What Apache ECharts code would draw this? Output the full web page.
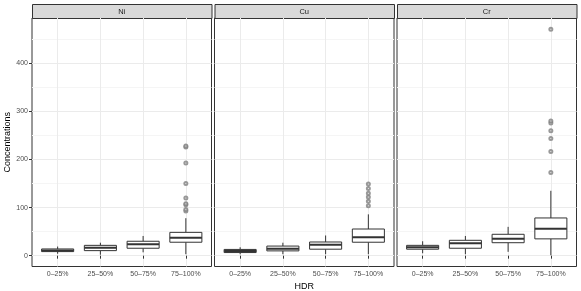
<!DOCTYPE html>
<html>
<head>
<meta charset="utf-8">
<script src="https://cdn.jsdelivr.net/npm/echarts@6/dist/echarts.min.js"></script>
<style>
html,body{margin:0;padding:0;background:#fff;}
#main{width:581px;height:291px;}
</style>
</head>
<body>
<div id="main"></div>
<script>
// ---- data ----
const categories = ['0–25%', '25–50%', '50–75%', '75–100%'];
const elements = ['Ni', 'Cu', 'Cr'];
const yTicks = [0, 100, 200, 300, 400];
const yMinorTicks = [50, 150, 250, 350, 450];
// box stats per category: [min, Q1, median, Q3, max]
const niStats = [[4, 8.5, 11, 14, 19], [2, 10.5, 16.5, 21.5, 27], [7, 15.5, 24, 30, 41], [3, 28, 37.5, 48.5, 78]];
const cuStats = [[3, 6.5, 10, 13, 17.5], [3, 10, 14.5, 20, 27], [3, 13.5, 23, 28.5, 42], [3, 28, 38.5, 55.5, 86]];
const crStats = [[5, 13.5, 17.5, 21.5, 30], [3, 15.5, 26, 32, 41], [8, 27, 35, 44.5, 60], [1, 35, 56, 78.5, 135]];
// outliers per category
const niOutliers = [[], [], [], [93, 96, 106, 108, 120, 150, 193, 226, 228]];
const cuOutliers = [[], [], [], [104, 113, 122, 130, 140, 149]];
const crOutliers = [[], [], [], [173, 217, 244, 260, 276, 280, 471]];

const allStats = [niStats, cuStats, crStats];
const allOutliers = [niOutliers, cuOutliers, crOutliers];

// ---- layout ----
const panelLeft = [32, 214.5, 397];
const panelWidth = 179.5;
const panelTop = 18;
const panelHeight = 248.5;
const stripTop = 4;
const yMin = -22.5, yMax = 494.5;

const grids = [], xAxes = [], yAxes = [], series = [], graphics = [];
const tickColor = '#333333';
const labelColor = '#4D4D4D';
const font = 'Liberation Sans, Arial, Helvetica, sans-serif';

elements.forEach((el, i) => {
  grids.push({left: panelLeft[i], top: panelTop, width: panelWidth, height: panelHeight,
    show: true, backgroundColor: '#fff', borderColor: '#333333', borderWidth: 1,
    containLabel: false, outerBoundsMode: 'none'});
  xAxes.push({
    type: 'value', gridIndex: i, min: 0.4, max: 4.6,
    axisLine: {show: false},
    axisTick: {show: true, length: 3, lineStyle: {color: tickColor, width: 1}, customValues: [1, 2, 3, 4]},
    axisLabel: {show: true, customValues: [1, 2, 3, 4], margin: 4, color: labelColor, fontSize: 7, fontFamily: font,
      formatter: v => categories[Math.round(v) - 1]},
    splitLine: {show: true, lineStyle: {color: '#EBEBEB', width: 1}},
    name: i === 1 ? 'HDR' : '', nameLocation: 'middle', nameGap: 14,
    nameTextStyle: {color: '#000', fontSize: 9, fontFamily: font}
  });
  // major y axis
  yAxes.push({
    type: 'value', gridIndex: i, min: yMin, max: yMax,
    axisLine: {show: false},
    axisTick: {show: i === 0, length: 3, lineStyle: {color: tickColor, width: 1}, customValues: yTicks},
    axisLabel: {show: i === 0, customValues: yTicks, margin: 4, color: labelColor, fontSize: 7, fontFamily: font},
    splitLine: {show: true, lineStyle: {color: '#EBEBEB', width: 1}},
    name: i === 0 ? 'Concentrations' : '', nameLocation: 'middle', nameGap: 18,
    nameTextStyle: {color: '#000', fontSize: 9, fontFamily: font}
  });
  // minor y axis (grid lines only)
  yAxes.push({
    type: 'value', gridIndex: i, min: yMin, max: yMax, position: 'left',
    axisLine: {show: false},
    axisTick: {show: false, customValues: yMinorTicks},
    axisLabel: {show: false, customValues: yMinorTicks},
    splitLine: {show: true, lineStyle: {color: '#F5F5F5', width: 1}}
  });

  const boxData = allStats[i].map((s, k) => [k + 1, s[0], s[1], s[2], s[3], s[4]]);
  series.push({
    type: 'custom', xAxisIndex: i, yAxisIndex: i * 2, data: boxData,
    encode: {x: 0, y: [1, 2, 3, 4, 5]}, z: 3,
    renderItem: function (params, api) {
      const x = api.value(0);
      const lo = api.coord([x, api.value(1)]);
      const q1 = api.coord([x, api.value(2)]);
      const med = api.coord([x, api.value(3)]);
      const q3 = api.coord([x, api.value(4)]);
      const hi = api.coord([x, api.value(5)]);
      const w = api.size([0.75, 0])[0];
      const st = {stroke: '#333333', lineWidth: 1, fill: null};
      return {type: 'group', children: [
        {type: 'line', shape: {x1: lo[0], y1: lo[1], x2: q1[0], y2: q1[1]}, style: st},
        {type: 'line', shape: {x1: q3[0], y1: q3[1], x2: hi[0], y2: hi[1]}, style: st},
        {type: 'rect', shape: {x: q3[0] - w / 2, y: q3[1], width: w, height: q1[1] - q3[1]},
          style: {fill: '#fff', stroke: '#333333', lineWidth: 1}},
        {type: 'line', shape: {x1: med[0] - w / 2, y1: med[1], x2: med[0] + w / 2, y2: med[1]},
          style: {stroke: '#333333', lineWidth: 2}}
      ]};
    }
  });
  const outData = [];
  allOutliers[i].forEach((arr, k) => arr.forEach(v => outData.push([k + 1, v])));
  series.push({
    type: 'scatter', xAxisIndex: i, yAxisIndex: i * 2, data: outData, z: 4,
    symbol: 'emptyCircle', symbolSize: 3,
    itemStyle: {color: '#808080', borderWidth: 0.8}
  });

  graphics.push({
    type: 'rect', left: panelLeft[i], top: stripTop,
    shape: {width: panelWidth, height: panelTop - stripTop},
    style: {fill: '#D9D9D9', stroke: '#333333', lineWidth: 1}
  });
  graphics.push({
    type: 'text', x: panelLeft[i] + panelWidth / 2, y: stripTop + (panelTop - stripTop) / 2 + 0.5,
    style: {text: el, fill: '#1A1A1A', fontSize: 7.5, fontFamily: font, align: 'center', verticalAlign: 'middle'}
  });
});

const chart = echarts.init(document.getElementById('main'), null, {renderer: 'canvas'});
chart.setOption({
  animation: false,
  backgroundColor: '#fff',
  grid: grids, xAxis: xAxes, yAxis: yAxes, series: series, graphic: graphics
});
</script>
</body>
</html>
